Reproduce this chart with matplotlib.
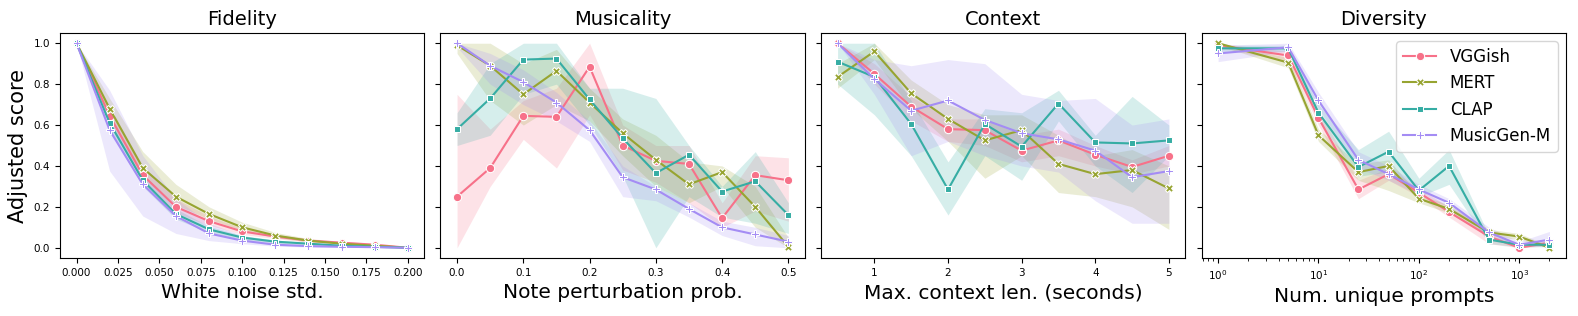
import numpy as np
import matplotlib
matplotlib.use("Agg")
import matplotlib.pyplot as plt
import seaborn as sns

models = ["VGGish", "MERT", "CLAP", "MusicGen-M"]

# Fidelity: white noise std
fid_x = [0.0, 0.02, 0.04, 0.06, 0.08, 0.10, 0.12, 0.14, 0.16, 0.18, 0.20]
fid_mean = {
    "VGGish":     [1.0, 0.645, 0.355, 0.20, 0.13, 0.08, 0.055, 0.035, 0.025, 0.015, 0.0],
    "MERT":       [1.0, 0.68, 0.39, 0.25, 0.165, 0.10, 0.06, 0.035, 0.02, 0.01, 0.0],
    "CLAP":       [1.0, 0.61, 0.33, 0.165, 0.09, 0.05, 0.03, 0.02, 0.01, 0.005, 0.0],
    "MusicGen-M": [1.0, 0.575, 0.31, 0.155, 0.07, 0.035, 0.015, 0.008, 0.005, 0.003, 0.0],
}
fid_lo = {
    "VGGish":     [1.0, 0.61, 0.32, 0.17, 0.11, 0.065, 0.045, 0.028, 0.02, 0.01, 0.0],
    "MERT":       [1.0, 0.64, 0.35, 0.21, 0.14, 0.085, 0.05, 0.028, 0.015, 0.007, 0.0],
    "CLAP":       [1.0, 0.57, 0.30, 0.14, 0.075, 0.04, 0.022, 0.014, 0.007, 0.003, 0.0],
    "MusicGen-M": [1.0, 0.375, 0.155, 0.07, 0.035, 0.02, 0.008, 0.004, 0.002, 0.001, 0.0],
}
fid_hi = {
    "VGGish":     [1.0, 0.69, 0.40, 0.24, 0.155, 0.095, 0.065, 0.045, 0.032, 0.02, 0.0],
    "MERT":       [1.0, 0.73, 0.47, 0.31, 0.20, 0.125, 0.075, 0.045, 0.028, 0.015, 0.0],
    "CLAP":       [1.0, 0.65, 0.36, 0.19, 0.105, 0.06, 0.038, 0.026, 0.014, 0.008, 0.0],
    "MusicGen-M": [1.0, 0.77, 0.45, 0.24, 0.12, 0.06, 0.03, 0.015, 0.01, 0.006, 0.0],
}

# Musicality: note perturbation prob.
mus_x = [0.0, 0.05, 0.10, 0.15, 0.20, 0.25, 0.30, 0.35, 0.40, 0.45, 0.50]
mus_mean = {
    "VGGish":     [0.25, 0.39, 0.645, 0.64, 0.885, 0.50, 0.425, 0.41, 0.145, 0.355, 0.33],
    "MERT":       [0.99, 0.89, 0.75, 0.865, 0.71, 0.56, 0.43, 0.31, 0.37, 0.20, 0.005],
    "CLAP":       [0.58, 0.73, 0.92, 0.925, 0.725, 0.535, 0.365, 0.455, 0.275, 0.325, 0.16],
    "MusicGen-M": [1.0, 0.89, 0.81, 0.71, 0.575, 0.345, 0.285, 0.19, 0.10, 0.065, 0.03],
}
mus_lo = {
    "VGGish":     [0.0, 0.30, 0.53, 0.39, 0.65, 0.38, 0.32, 0.22, 0.10, 0.18, 0.13],
    "MERT":       [0.95, 0.72, 0.60, 0.70, 0.62, 0.45, 0.30, 0.22, 0.30, 0.10, 0.0],
    "CLAP":       [0.50, 0.55, 0.75, 0.80, 0.60, 0.35, 0.0, 0.25, 0.15, 0.12, 0.07],
    "MusicGen-M": [0.98, 0.80, 0.70, 0.62, 0.52, 0.25, 0.23, 0.15, 0.06, 0.01, 0.0],
}
mus_hi = {
    "VGGish":     [0.75, 0.58, 0.72, 0.78, 1.0, 0.60, 0.50, 0.50, 0.22, 0.45, 0.44],
    "MERT":       [1.0, 1.0, 0.90, 0.97, 0.78, 0.63, 0.55, 0.42, 0.40, 0.30, 0.05],
    "CLAP":       [0.66, 0.90, 1.0, 1.0, 0.78, 0.78, 0.73, 0.50, 0.30, 0.47, 0.22],
    "MusicGen-M": [1.0, 0.95, 0.87, 0.76, 0.62, 0.40, 0.30, 0.22, 0.13, 0.10, 0.06],
}

# Context: max context length
ctx_x = [0.5, 1.0, 1.5, 2.0, 2.5, 3.0, 3.5, 4.0, 4.5, 5.0]
ctx_mean = {
    "VGGish":     [1.0, 0.85, 0.69, 0.58, 0.575, 0.475, 0.525, 0.455, 0.395, 0.45],
    "MERT":       [0.835, 0.96, 0.755, 0.63, 0.525, 0.575, 0.41, 0.36, 0.38, 0.29],
    "CLAP":       [0.91, 0.835, 0.605, 0.285, 0.605, 0.495, 0.705, 0.515, 0.51, 0.525],
    "MusicGen-M": [1.0, 0.825, 0.67, 0.72, 0.625, 0.56, 0.53, 0.475, 0.345, 0.375],
}
ctx_lo = {
    "VGGish":     [1.0, 0.80, 0.62, 0.52, 0.50, 0.42, 0.45, 0.40, 0.36, 0.40],
    "MERT":       [0.78, 0.92, 0.68, 0.52, 0.34, 0.45, 0.27, 0.25, 0.20, 0.09],
    "CLAP":       [0.80, 0.65, 0.45, 0.16, 0.45, 0.33, 0.62, 0.40, 0.27, 0.45],
    "MusicGen-M": [1.0, 0.75, 0.45, 0.52, 0.45, 0.40, 0.37, 0.23, 0.12, 0.12],
}
ctx_hi = {
    "VGGish":     [1.0, 0.90, 0.74, 0.63, 0.63, 0.55, 0.58, 0.50, 0.43, 0.50],
    "MERT":       [0.90, 1.0, 0.82, 0.70, 0.65, 0.65, 0.55, 0.45, 0.48, 0.40],
    "CLAP":       [1.0, 1.0, 0.72, 0.42, 0.68, 0.66, 0.77, 0.55, 0.74, 0.60],
    "MusicGen-M": [1.0, 0.92, 0.89, 0.92, 0.90, 0.75, 0.72, 0.73, 0.60, 0.63],
}

# Diversity: number of unique prompts
div_x = [1, 5, 10, 25, 50, 100, 200, 500, 1000, 2000]
div_mean = {
    "VGGish":     [0.99, 0.94, 0.635, 0.285, 0.36, 0.27, 0.175, 0.055, 0.0, 0.025],
    "MERT":       [1.0, 0.905, 0.55, 0.37, 0.40, 0.24, 0.19, 0.075, 0.055, 0.0],
    "CLAP":       [0.975, 0.975, 0.66, 0.395, 0.47, 0.28, 0.40, 0.04, 0.015, 0.015],
    "MusicGen-M": [0.95, 0.98, 0.72, 0.43, 0.36, 0.285, 0.22, 0.075, 0.015, 0.04],
}
div_lo = {
    "VGGish":     [0.98, 0.91, 0.60, 0.24, 0.33, 0.25, 0.15, 0.02, 0.0, 0.01],
    "MERT":       [0.99, 0.88, 0.52, 0.33, 0.28, 0.22, 0.17, 0.06, 0.04, 0.0],
    "CLAP":       [0.96, 0.96, 0.62, 0.35, 0.37, 0.25, 0.31, 0.02, 0.005, 0.005],
    "MusicGen-M": [0.91, 0.96, 0.68, 0.39, 0.33, 0.26, 0.20, 0.05, 0.005, 0.01],
}
div_hi = {
    "VGGish":     [1.0, 0.96, 0.67, 0.33, 0.39, 0.29, 0.20, 0.09, 0.01, 0.04],
    "MERT":       [1.0, 0.93, 0.58, 0.41, 0.43, 0.26, 0.21, 0.09, 0.07, 0.01],
    "CLAP":       [0.99, 0.99, 0.70, 0.48, 0.57, 0.34, 0.48, 0.06, 0.025, 0.03],
    "MusicGen-M": [0.99, 1.0, 0.76, 0.47, 0.40, 0.31, 0.24, 0.10, 0.03, 0.08],
}

panels = [
    ("Fidelity", "White noise std.", fid_x, fid_mean, fid_lo, fid_hi),
    ("Musicality", "Note perturbation prob.", mus_x, mus_mean, mus_lo, mus_hi),
    ("Context", "Max. context len. (seconds)", ctx_x, ctx_mean, ctx_lo, ctx_hi),
    ("Diversity", "Num. unique prompts", div_x, div_mean, div_lo, div_hi),
]

colors = sns.color_palette("husl", 4)
markers = ["o", "X", (4, 0, 45), "P"]
msizes = [6, 6, 6, 6]

fig, axes = plt.subplots(1, 4, figsize=(15.78, 3.16), dpi=100, sharey=True)
fig.subplots_adjust(left=0.038, right=0.9924, top=0.8956, bottom=0.1835, wspace=0.044)

for ax, (title, xlabel, x, mean, lo, hi) in zip(axes, panels):
    for i, m in enumerate(models):
        ax.fill_between(x, lo[m], hi[m], color=colors[i], alpha=0.2, linewidth=0)
        ax.plot(x, mean[m], color=colors[i], marker=markers[i], markersize=msizes[i],
                markeredgecolor="white", markeredgewidth=0.75, linewidth=1.5, label=m)
    ax.set_title(title, fontsize=14)
    ax.set_xlabel(xlabel, fontsize=14.5)
    ax.tick_params(labelsize=7.5)

axes[0].set_xticks([0.0, 0.025, 0.05, 0.075, 0.1, 0.125, 0.15, 0.175, 0.2])
axes[0].set_xticklabels(["0.000", "0.025", "0.050", "0.075", "0.100", "0.125", "0.150", "0.175", "0.200"])
axes[1].set_xticks([0.0, 0.1, 0.2, 0.3, 0.4, 0.5])
axes[2].set_xticks([1, 2, 3, 4, 5])
axes[3].set_xscale("log")
axes[0].set_yticks([0.0, 0.2, 0.4, 0.6, 0.8, 1.0])
axes[0].set_ylabel("Adjusted score", fontsize=15)
axes[3].legend(loc="upper right", fontsize=12)

plt.savefig("out.png")
